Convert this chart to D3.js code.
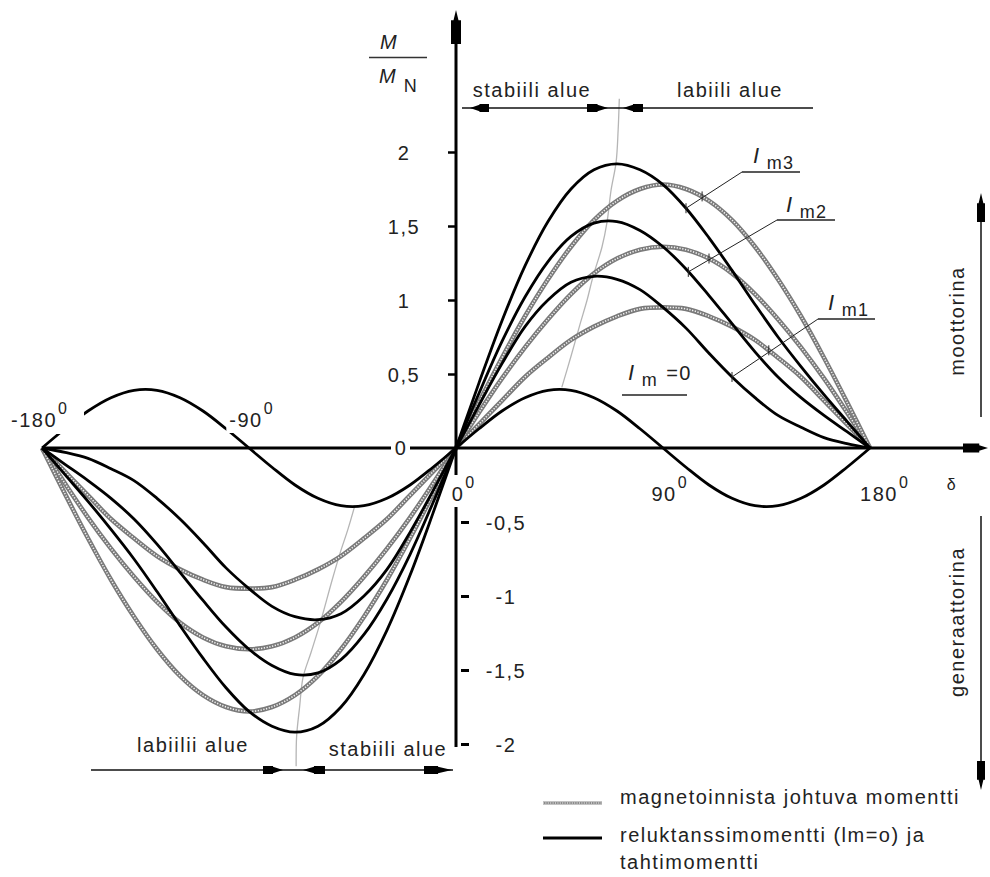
<!DOCTYPE html>
<html><head><meta charset="utf-8">
<script src="https://cdn.jsdelivr.net/npm/d3@7"></script>
<style>
body{margin:0;background:#fff;}
svg text{font-family:"Liberation Sans",Arial,sans-serif;fill:#222;font-size:20px;letter-spacing:1.5px;}
</style></head><body>
<svg id="c" width="990" height="877"></svg>
<script>
// ---- data ----
const deltas = [-180,-170,-160,-150,-140,-130,-120,-110,-100,-90,-80,-70,-60,-50,-40,-30,-20,-10,0,10,20,30,40,50,60,70,80,90,100,110,120,130,140,150,160,170,180];
const reluctance = [0,0.13,0.25,0.34,0.39,0.39,0.34,0.25,0.13,0,-0.13,-0.25,-0.34,-0.39,-0.39,-0.34,-0.25,-0.13,0,0.13,0.25,0.34,0.39,0.39,0.34,0.25,0.13,0,-0.13,-0.25,-0.34,-0.39,-0.39,-0.34,-0.25,-0.13,0];
const magnet1 = [0,-0.16,-0.32,-0.48,-0.61,-0.73,-0.82,-0.89,-0.94,-0.95,-0.94,-0.89,-0.82,-0.73,-0.61,-0.48,-0.32,-0.16,0,0.16,0.32,0.48,0.61,0.73,0.82,0.89,0.94,0.95,0.94,0.89,0.82,0.73,0.61,0.48,0.32,0.16,0];
const magnet2 = [0,-0.24,-0.47,-0.68,-0.87,-1.04,-1.18,-1.28,-1.34,-1.36,-1.34,-1.28,-1.18,-1.04,-0.87,-0.68,-0.47,-0.24,0,0.24,0.47,0.68,0.87,1.04,1.18,1.28,1.34,1.36,1.34,1.28,1.18,1.04,0.87,0.68,0.47,0.24,0];
const magnet3 = [0,-0.31,-0.61,-0.89,-1.14,-1.36,-1.54,-1.67,-1.75,-1.78,-1.75,-1.67,-1.54,-1.36,-1.14,-0.89,-0.61,-0.31,0,0.31,0.61,0.89,1.14,1.36,1.54,1.67,1.75,1.78,1.75,1.67,1.54,1.36,1.14,0.89,0.61,0.31,0];
const total1 = [0,-0.03,-0.07,-0.14,-0.22,-0.34,-0.48,-0.64,-0.81,-0.95,-1.07,-1.14,-1.16,-1.12,-1.00,-0.82,-0.57,-0.29,0,0.29,0.57,0.82,1.00,1.12,1.16,1.14,1.07,0.95,0.81,0.64,0.48,0.34,0.22,0.14,0.07,0.03,0];
const total2 = [0,-0.11,-0.22,-0.34,-0.48,-0.65,-0.84,-1.03,-1.21,-1.36,-1.47,-1.53,-1.52,-1.43,-1.26,-1.02,-0.72,-0.37,0,0.37,0.72,1.02,1.26,1.43,1.52,1.53,1.47,1.36,1.21,1.03,0.84,0.65,0.48,0.34,0.22,0.11,0];
const total3 = [0,-0.18,-0.36,-0.55,-0.75,-0.97,-1.20,-1.42,-1.62,-1.78,-1.88,-1.92,-1.88,-1.75,-1.53,-1.23,-0.86,-0.44,0,0.44,0.86,1.23,1.53,1.75,1.88,1.92,1.88,1.78,1.62,1.42,1.20,0.97,0.75,0.55,0.36,0.18,0];
const locusPosDelta = [46,50,54,57,59.6,63.5,65.7,67.4,69.6,70.5,71];
const locusPosM     = [0.41,0.62,0.84,1.0,1.16,1.36,1.53,1.74,1.93,2.15,2.36];
const locusNegDelta = [-44,-47,-50.4,-54,-59,-63,-66.5,-68,-69.3,-69.5];
const locusNegM     = [-0.39,-0.55,-0.71,-0.9,-1.18,-1.38,-1.55,-1.75,-1.95,-2.15];
const yTicksPos = [0.5,1,1.5,2];
const yTickLabelsPos = ["0,5","1","1,5","2"];
const yTicksNeg = [-0.5,-1,-1.5,-2];
const yTickLabelsNeg = ["-0,5","-1","-1,5","-2"];
const xTickValues = [-180,-90,0,90,180];
const xTickLabels = ["-180","-90","0","90","180"];
const legendLabels = ["magnetoinnista johtuva momentti","reluktanssimomentti (lm=o) ja","tahtimomentti"];

// ---- layout ----
const svg = d3.select("#c");
const x = d3.scaleLinear().domain([-180,180]).range([42,870]);
const y = d3.scaleLinear().domain([-2,2]).range([744,152]);
const X0 = x(0), Y0 = y(0);

function arrowHead(g, px, py, angle, len, w, tipFrac, tipW){
  const t = tipFrac || 0.5;
  const tw = tipW || 0.42;
  const pts = [[0,0],[-len*t,-w*tw],[-len*t,-w/2],[-len,-w/2],[-len,w/2],[-len*t,w/2],[-len*t,w*tw]];
  g.append("polygon").attr("points", pts.map(p=>p.join(",")).join(" "))
    .attr("transform",`translate(${px},${py}) rotate(${angle})`).attr("fill","#000");
}

const line = d3.line().x(d=>x(d[0])).y(d=>y(d[1])).curve(d3.curveCatmullRom.alpha(0.5));
const zip = (a,b)=>a.map((v,i)=>[v,b[i]]);

// locus (stability boundary)
const gLoc = svg.append("g");
[zip(locusPosDelta,locusPosM), zip(locusNegDelta,locusNegM)].forEach(pts=>{
  gLoc.append("path").attr("d", line(pts)).attr("fill","none").attr("stroke","#b5b5b5").attr("stroke-width",1.3);
});

// gray (magnetising) curves
const gGray = svg.append("g");
[magnet1, magnet2, magnet3].forEach(vals=>{
  const d = line(zip(deltas, vals));
  gGray.append("path").attr("d", d).attr("fill","none").attr("stroke","#7a7a7a").attr("stroke-width",4.6);
  gGray.append("path").attr("d", d).attr("fill","none").attr("stroke","#f2f2f2").attr("stroke-width",1.6).attr("stroke-dasharray","1.3 1.5");
});

// black (total) curves
const gBlack = svg.append("g");
[reluctance, total1, total2, total3].forEach(vals=>{
  gBlack.append("path").attr("d", line(zip(deltas, vals))).attr("fill","none").attr("stroke","#000").attr("stroke-width",2.8).attr("stroke-linejoin","round");
});

// axes lines
const gAx = svg.append("g");
gAx.append("line").attr("x1",x(-180)).attr("x2",975).attr("y1",Y0).attr("y2",Y0).attr("stroke","#000").attr("stroke-width",3);
arrowHead(gAx, 988, Y0, 0, 25, 9, 0.35, 0.3);
gAx.append("line").attr("x1",X0).attr("x2",X0).attr("y1",y(-2)+3).attr("y2",20).attr("stroke","#000").attr("stroke-width",3);
arrowHead(gAx, X0, 10, -90, 34, 10, 0.3, 0.25);

// y axis ticks via d3 axes
const axPos = svg.append("g").attr("transform",`translate(${X0},0)`)
  .call(d3.axisLeft(y).tickValues(yTicksPos).tickSize(8).tickFormat((d,i)=>yTickLabelsPos[i]));
axPos.select(".domain").remove();
axPos.selectAll(".tick line").attr("stroke","#000").attr("stroke-width",2.5);
axPos.selectAll(".tick text").attr("x",-52).attr("dy","0.35em").attr("text-anchor","middle")
  .style("font-size","20px").style("font-family","Liberation Sans, Arial, sans-serif").attr("fill","#222");

const axNeg = svg.append("g").attr("transform",`translate(${X0+3},0)`)
  .call(d3.axisRight(y).tickValues(yTicksNeg).tickSize(10).tickFormat((d,i)=>yTickLabelsNeg[i]));
axNeg.select(".domain").remove();
axNeg.selectAll(".tick line").attr("stroke","#000").attr("stroke-width",3).attr("x1",2);
axNeg.selectAll(".tick text").attr("x",47).attr("dy","0.35em").attr("text-anchor","middle")
  .style("font-size","20px").style("font-family","Liberation Sans, Arial, sans-serif").attr("fill","#222");

// "0" label on y axis (breaks x-axis)
svg.append("rect").attr("x",391).attr("y",Y0-11).attr("width",19).attr("height",22).attr("fill","#fff");
svg.append("text").attr("x",401).attr("y",Y0+7).attr("text-anchor","middle").text("0");

// x tick labels (degrees)
const xdx = [-8,-3,2,1,9];
xTickValues.forEach((v,i)=>{
  const neg = v < 0;
  const by = neg ? 427 : 501;
  const cx = x(v) + xdx[i];
  const g = svg.append("g");
  const t = g.append("text").attr("x",cx).attr("y",by).attr("text-anchor","middle").text(xTickLabels[i]);
  const w = t.node().getComputedTextLength();
  const bg = g.insert("rect","text").attr("fill","#fff");
  g.append("text").attr("x",cx + w/2 + 1).attr("y",by-13).style("font-size","16px").text("0");
  if (v === -180) bg.attr("x",cx - w/2 - 3).attr("y",by-25).attr("width",w+30).attr("height",32);
  else if (v === -90) bg.attr("x",cx - w/2 - 3).attr("y",by-25).attr("width",w+22).attr("height",31);
  else if (v === 0) bg.attr("x",cx - w/2 - 2).attr("y",by-26).attr("width",w+20).attr("height",32);
  else bg.attr("width",0);
});
svg.append("text").attr("x",952).attr("y",490).attr("text-anchor","middle").style("font-size","16px").text("δ");

// y label M / M_N
svg.append("text").attr("x",389).attr("y",49).attr("text-anchor","middle").style("font-style","italic").text("M");
svg.append("line").attr("x1",369).attr("x2",427).attr("y1",57.5).attr("y2",57.5).attr("stroke","#333").attr("stroke-width",1.3);
svg.append("text").attr("x",388).attr("y",83).attr("text-anchor","middle").style("font-style","italic").text("M");
svg.append("text").attr("x",411).attr("y",92).attr("text-anchor","middle").style("font-size","18px").text("N");

// stability region annotations (top)
const gAnn = svg.append("g");
gAnn.append("line").attr("x1",462).attr("x2",813).attr("y1",108).attr("y2",108).attr("stroke","#111").attr("stroke-width",1.5);
arrowHead(gAnn, 470, 108, 180, 19, 8);
arrowHead(gAnn, 608, 108, 0, 21, 8);
arrowHead(gAnn, 623, 108, 180, 20, 8);
gAnn.append("text").attr("x",532).attr("y",97).attr("text-anchor","middle").text("stabiili alue");
gAnn.append("text").attr("x",730).attr("y",97).attr("text-anchor","middle").text("labiili alue");
// bottom
gAnn.append("line").attr("x1",91).attr("x2",453).attr("y1",770).attr("y2",770).attr("stroke","#111").attr("stroke-width",1.5);
arrowHead(gAnn, 283, 770, 0, 20, 8);
arrowHead(gAnn, 303, 770, 180, 22, 8);
arrowHead(gAnn, 452, 770, 0, 28, 8);
gAnn.append("text").attr("x",193).attr("y",752).attr("text-anchor","middle").text("labiilii alue");
gAnn.append("text").attr("x",388).attr("y",756).attr("text-anchor","middle").text("stabiili alue");

// right side: moottorina / generaattorina
gAnn.append("line").attr("x1",981).attr("x2",981).attr("y1",417).attr("y2",205).attr("stroke","#111").attr("stroke-width",1.5);
arrowHead(gAnn, 981, 193, -90, 29, 8, 0.35, 0.3);
gAnn.append("text").attr("transform","translate(964,321) rotate(-90)").attr("text-anchor","middle").text("moottorina");
gAnn.append("line").attr("x1",981).attr("x2",981).attr("y1",516).attr("y2",780).attr("stroke","#111").attr("stroke-width",1.5);
arrowHead(gAnn, 981, 790, 90, 29, 8, 0.35, 0.3);
gAnn.append("text").attr("transform","translate(964,622) rotate(-90)").attr("text-anchor","middle").text("generaattorina");

// Im labels with leaders
function imLabel(ix, iy, sub, extra, ulx1, ulx2, uly, endDelta, endM, crossDelta, crossM){
  const t = gAnn.append("text").attr("x",ix).attr("y",iy);
  t.append("tspan").style("font-style","italic").style("font-size","22px").text("I");
  t.append("tspan").attr("dx",6).attr("dy",6).style("font-size","18px").text(sub);
  if (extra) t.append("tspan").attr("dx",8).attr("dy",-6).text(extra);
  gAnn.append("line").attr("x1",ulx1).attr("x2",ulx2).attr("y1",uly).attr("y2",uly).attr("stroke","#222").attr("stroke-width",1.3);
  if (endDelta !== null){
    const ex = x(endDelta), ey = y(endM);
    gAnn.append("line").attr("x1",ulx1).attr("y1",uly).attr("x2",ex).attr("y2",ey).attr("stroke","#222").attr("stroke-width",1);
    [[ex,ey],[x(crossDelta),y(crossM)]].forEach(p=>{
      gAnn.append("line").attr("x1",p[0]).attr("x2",p[0]).attr("y1",p[1]-5).attr("y2",p[1]+5).attr("stroke","#222").attr("stroke-width",1);
    });
  }
}
imLabel(753,163,"m3",null,742,800,172,100,1.62,107,1.70);
imLabel(786,212,"m2",null,777,835,220,101,1.19,110,1.28);
imLabel(828,310,"m1",null,818,875,319,120,0.48,136,0.66);
imLabel(628,380,"m","=0",622,687,395,null);

// legend
const gLeg = svg.append("g");
gLeg.append("line").attr("x1",543).attr("x2",602).attr("y1",803).attr("y2",803).attr("stroke","#8a8a8a").attr("stroke-width",3);
gLeg.append("line").attr("x1",543).attr("x2",602).attr("y1",803).attr("y2",803).attr("stroke","#fff").attr("stroke-width",1).attr("stroke-dasharray","1 1.4");
gLeg.append("line").attr("x1",543).attr("x2",602).attr("y1",838).attr("y2",838).attr("stroke","#000").attr("stroke-width",3);
gLeg.append("text").attr("x",620).attr("y",804).text(legendLabels[0]);
gLeg.append("text").attr("x",620).attr("y",842).text(legendLabels[1]);
gLeg.append("text").attr("x",620).attr("y",869).text(legendLabels[2]);
</script>
</body></html>
